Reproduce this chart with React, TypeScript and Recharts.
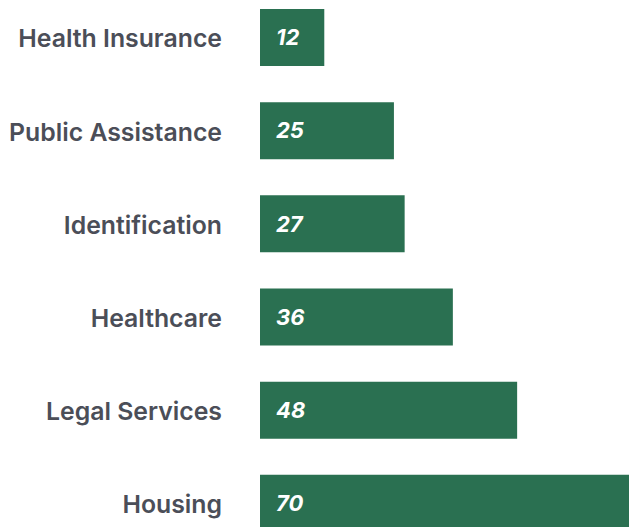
import React from "react";
import { BarChart, Bar, XAxis, YAxis, LabelList } from "recharts";

const categories = ["Health Insurance", "Public Assistance", "Identification", "Healthcare", "Legal Services", "Housing"];
const values = [12, 25, 27, 36, 48, 70];

const data = categories.map((name, i) => ({ name, value: values[i] }));

export default function App() {
  return (
    <div style={{ position: "absolute", left: 0, top: -9, width: 635, height: 559 }}>
      <BarChart
        width={635}
        height={559}
        data={data}
        layout="vertical"
        margin={{ top: 0, right: 0, bottom: 0, left: 0 }}
        barCategoryGap={0}
      >
        <XAxis type="number" domain={[0, 70]} hide />
        <YAxis
          type="category"
          dataKey="name"
          width={260}
          axisLine={false}
          tickLine={false}
          tickSize={0}
          tickMargin={38}
          tick={{ fill: "#4b4e58", fontSize: 24.8, fontWeight: 600, fontFamily: "Inter", dy: 1 }}
        />
        <Bar dataKey="value" fill="#2a7051" barSize={57} isAnimationActive={false}>
          <LabelList
            dataKey="value"
            position="insideLeft"
            offset={16}
            style={{ fill: "#ffffff", fontSize: 22, fontWeight: 700, fontStyle: "italic", fontFamily: "Inter" }}
          />
        </Bar>
      </BarChart>
    </div>
  );
}
